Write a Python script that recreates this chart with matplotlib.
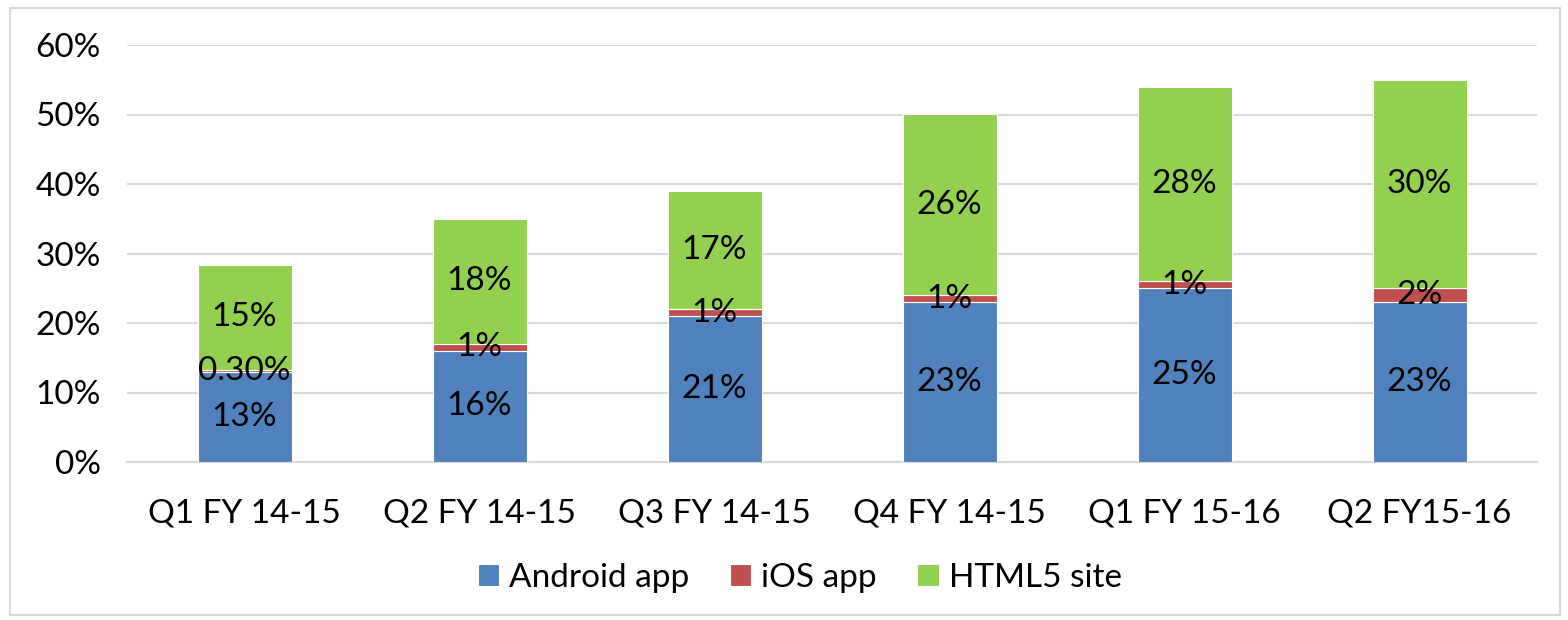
import matplotlib
matplotlib.use("Agg")
import matplotlib.pyplot as plt
from matplotlib.patches import Rectangle
import numpy as np

categories = ["Q1 FY 14-15", "Q2 FY 14-15", "Q3 FY 14-15", "Q4 FY 14-15", "Q1 FY 15-16", "Q2 FY15-16"]
android = [13, 16, 21, 23, 25, 23]
ios = [0.3, 1, 1, 1, 1, 2]
html5 = [15, 18, 17, 26, 28, 30]
android_labels = ["13%", "16%", "21%", "23%", "25%", "23%"]
ios_labels = ["0.30%", "1%", "1%", "1%", "1%", "2%"]
html5_labels = ["15%", "18%", "17%", "26%", "28%", "30%"]
series_names = ["Android app", "iOS app", "HTML5 site"]
colors = ["#4F81BD", "#C0504D", "#92D050"]

plt.rcParams['font.family'] = ['Lato', 'DejaVu Sans']
FS = 24

fig = plt.figure(figsize=(15.68, 6.2), dpi=100)
fig.patches.append(Rectangle((10/1568, 1-615/620), 1550/1568, 607/620, transform=fig.transFigure,
                             fill=False, edgecolor="#D9D9D9", linewidth=1.5))
ax = fig.add_axes([127/1568, 1-462/620, 1410/1568, 417/620])

x = np.arange(len(categories))
w = 0.40
b1 = ax.bar(x, android, w, color=colors[0], edgecolor="white", linewidth=0.8, label=series_names[0], zorder=3)
b2 = ax.bar(x, ios, w, bottom=android, color=colors[1], edgecolor="white", linewidth=0.8, label=series_names[1], zorder=3)
bottom2 = [a + i for a, i in zip(android, ios)]
b3 = ax.bar(x, html5, w, bottom=bottom2, color=colors[2], edgecolor="white", linewidth=0.8, label=series_names[2], zorder=3)

ax.bar_label(b1, labels=android_labels, label_type='center', fontsize=FS, color="black", zorder=4)
ax.bar_label(b2, labels=ios_labels, label_type='center', fontsize=FS, color="black", zorder=4)
ax.bar_label(b3, labels=html5_labels, label_type='center', fontsize=FS, color="black", zorder=4)

ax.set_xlim(-0.5, len(categories) - 0.5)
ax.set_ylim(0, 60)
ax.set_yticks(np.arange(0, 61, 10))
ax.set_yticklabels([f"{v}%" for v in range(0, 61, 10)], fontsize=FS)
ax.set_xticks(x)
ax.set_xticklabels(categories, fontsize=FS)
ax.tick_params(axis='both', length=0)
ax.tick_params(axis='y', pad=19)
ax.tick_params(axis='x', pad=26)
ax.yaxis.grid(True, color="#D9D9D9", linewidth=1.5, zorder=0)
for s in ["top", "right", "left"]:
    ax.spines[s].set_visible(False)
ax.spines["bottom"].set_color("#D9D9D9")
ax.spines["bottom"].set_linewidth(1.5)

fig.legend(handles=[b1, b2, b3], labels=series_names, loc="center", bbox_to_anchor=(0.51, 1-578/620),
           ncol=3, frameon=False, fontsize=FS, handlelength=0.65, handleheight=0.65,
           handletextpad=0.3, columnspacing=1.2)

fig.savefig("out.png", dpi=100)
